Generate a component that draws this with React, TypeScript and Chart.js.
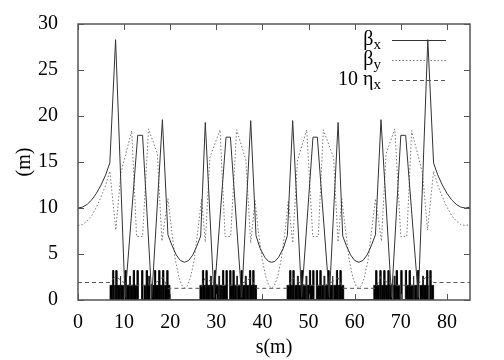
import React, { useEffect, useRef } from 'react';
import { Chart, registerables } from 'chart.js';

Chart.register(...registerables);

// ---- axis ticks ----
const xTicks = [0, 10, 20, 30, 40, 50, 60, 70, 80];
const yTicks = [0, 5, 10, 15, 20, 25, 30];

// ---- beta_x (m) ----
const sBetaX = [
  0, 1, 2, 3, 4, 5, 6, 6.9, 8.15, 10.2, 12.95, 14.0, 16.0, 18.3, 19.5,
  20.4, 21.3, 22.2, 23.1, 24.0, 24.9, 25.8, 26.6,
  27.6, 29.5, 32.1, 33.05, 35.5, 37.45, 38.6,
  39.5, 40.5, 41.3, 42.0, 42.7, 43.5, 44.5, 45.4,
  46.55, 48.5, 50.95, 51.9, 54.5, 56.4, 57.4,
  58.2, 59.1, 60.0, 60.9, 61.8, 62.7, 63.6, 64.5,
  65.7, 68.0, 70.0, 71.05, 73.8, 75.85, 77.1,
  78, 79, 80, 81, 82, 83, 84, 85,
];
const betaX = [
  10.0, 10.1, 10.4, 10.9, 11.6, 12.5, 13.6, 14.9, 28.3, 0.3, 17.9, 17.9, 0.3, 19.6, 7.1,
  5.9, 4.9, 4.3, 4.1, 4.3, 4.9, 5.9, 6.95,
  19.3, 0.3, 17.7, 17.7, 0.3, 19.5, 7.0,
  5.6, 4.65, 4.2, 4.1, 4.2, 4.65, 5.6, 7.0,
  19.5, 0.3, 17.7, 17.7, 0.3, 19.3, 6.95,
  5.9, 4.9, 4.3, 4.1, 4.3, 4.9, 5.9, 7.1,
  19.6, 0.3, 17.9, 17.9, 0.3, 28.3, 14.9,
  13.6, 12.5, 11.6, 10.9, 10.4, 10.1, 10.0, 10.1,
];

// ---- beta_y (m) ----
const sBetaY = [
  0, 1, 2, 3, 4, 5, 6, 6.9, 8.2, 9.3, 11.65, 12.7, 14.0, 15.3, 17.2, 18.2, 19.5,
  20.3, 21.1, 21.9, 22.6, 23.15, 23.7, 24.4, 25.2, 26.0, 26.8,
  27.6, 28.6, 30.8, 31.9, 33.1, 34.4, 36.4, 37.45, 38.4,
  39.1, 39.9, 40.7, 41.4, 42.0, 42.6, 43.3, 44.1, 44.9, 45.6,
  46.55, 47.6, 49.6, 50.9, 52.1, 53.2, 55.4, 56.4, 57.2,
  58.0, 58.8, 59.6, 60.3, 60.85, 61.4, 62.1, 62.9, 63.7, 64.5,
  65.8, 66.8, 68.7, 70.0, 71.3, 72.35, 74.7, 75.8, 77.1,
  78, 79, 80, 81, 82, 83, 84, 85,
];
const betaY = [
  8.1, 8.2, 8.6, 9.2, 10.1, 11.2, 12.5, 14.0, 7.6, 13.8, 18.4, 6.9, 6.9, 18.6, 15.9, 6.4, 11.0,
  7.65, 4.37, 2.44, 1.52, 1.3, 1.52, 2.44, 4.37, 7.65, 11.0,
  6.3, 15.5, 18.5, 6.9, 6.9, 18.5, 15.2, 6.2, 10.8,
  7.47, 4.53, 2.54, 1.56, 1.3, 1.56, 2.54, 4.53, 7.47, 10.8,
  6.2, 15.2, 18.5, 6.9, 6.9, 18.5, 15.5, 6.3, 11.0,
  7.65, 4.37, 2.44, 1.52, 1.3, 1.52, 2.44, 4.37, 7.65, 11.0,
  6.4, 15.9, 18.6, 6.9, 6.9, 18.4, 13.8, 7.6, 14.0,
  12.5, 11.2, 10.1, 9.2, 8.6, 8.2, 8.1, 8.2,
];

// ---- 10 * eta_x (m) ----
const sEta = [
  0, 6.9, 8.2, 9.6, 11.2, 15.6, 17.2, 18.4, 19.5,
  26.6, 27.6, 28.8, 30.4, 34.8, 36.3, 37.45, 38.6,
  45.4, 46.55, 47.7, 49.2, 53.6, 55.2, 56.4, 57.4,
  64.5, 65.6, 66.8, 68.4, 72.8, 74.4, 75.8, 77.1, 85,
];
const eta10 = [
  1.9, 1.9, 2.6, 2.0, 1.6, 1.6, 2.0, 2.5, 1.27,
  1.27, 2.4, 2.0, 1.6, 1.6, 2.0, 2.4, 1.27,
  1.27, 2.4, 2.0, 1.6, 1.6, 2.0, 2.4, 1.27,
  1.27, 2.5, 2.0, 1.6, 1.6, 2.0, 2.6, 1.9, 1.9,
];

// ---- lattice elements (s positions, m) ----
const dipoles: [number, number][] = [
  [6.9, 7.4], [7.9, 8.1], [8.5, 9.1], [9.3, 9.9], [10.6, 11.1], [11.4, 11.9], [12.3, 12.7],
  [14.3, 14.7], [15.1, 15.6], [15.9, 16.5], [16.9, 17.4], [17.8, 18.2], [18.7, 19.2], [19.5, 19.9],
  [26.4, 26.9], [27.3, 27.6], [28.0, 28.6], [28.9, 29.4], [29.9, 30.4], [30.8, 31.2], [31.6, 32.0],
  [33.1, 33.5], [33.9, 34.3], [34.7, 35.2], [35.6, 36.2], [36.5, 37.0], [37.5, 37.8], [38.2, 38.7],
  [45.3, 45.8], [46.2, 46.5], [47.0, 47.5], [47.8, 48.4], [48.8, 49.3], [49.7, 50.1], [50.5, 50.9],
  [52.0, 52.4], [52.8, 53.2], [53.6, 54.1], [54.6, 55.1], [55.4, 56.0], [56.4, 56.7], [57.1, 57.6],
  [64.1, 64.5], [64.8, 65.3], [65.8, 66.2], [66.6, 67.1], [67.5, 68.1], [68.4, 68.9], [69.3, 69.7],
  [71.3, 71.7], [72.1, 72.6], [72.9, 73.4], [74.1, 74.7], [74.9, 75.5], [75.9, 76.1], [76.6, 77.1],
];
const quads = [
  7.6, 8.3, 10.3, 12.1, 12.9, 13.9, 14.9, 16.7, 17.6, 18.45, 19.35,
  27.1, 27.85, 29.7, 31.45, 32.2, 33.0, 33.7, 35.45, 37.3, 38.0,
  46.0, 46.7, 48.55, 50.3, 51.0, 51.8, 52.55, 54.3, 56.15, 56.9,
  64.65, 65.55, 66.4, 67.3, 69.1, 70.1, 71.1, 71.9, 73.7, 75.7, 76.4,
];
const sexts = [
  9.2, 11.25, 15.4,
  28.8, 30.6, 34.5, 36.35,
  47.65, 49.5, 53.4, 55.2,
  68.6, 72.75, 74.8,
];
const dipoleHeight = 1.6;
const quadHeight = 3.2;
const sextHeight = 2.6;
const quadLength = 0.25;
const sextLength = 0.18;

const pts = (s: number[], v: number[]) => s.map((x, i) => ({ x, y: v[i] }));
const boxes = (list: [number, number][], h: number) => {
  const out: { x: number; y: number }[] = [];
  list.forEach(([a, b]) => {
    out.push({ x: a, y: 0 }, { x: a, y: h }, { x: b, y: h }, { x: b, y: 0 });
  });
  return out;
};
const centred = (c: number[], len: number): [number, number][] =>
  c.map((m) => [m - len / 2, m + len / 2]);

const SERIF = "'Liberation Serif', 'DejaVu Serif', serif";

const legendEntries = [
  { main: 'β', sub: 'x', ds: 0 },
  { main: 'β', sub: 'y', ds: 1 },
  { main: '10 η', sub: 'x', ds: 2 },
];

const framePlugin = {
  id: 'frameAndLegend',
  afterDraw(chart: any) {
    const { ctx, chartArea: ca, scales } = chart;
    const xs = scales.x;
    const ys = scales.y;
    ctx.save();
    // frame
    ctx.strokeStyle = '#555';
    ctx.lineWidth = 1.5;
    ctx.setLineDash([]);
    ctx.strokeRect(ca.left, ca.top, ca.right - ca.left, ca.bottom - ca.top);
    // inward ticks on all four sides
    ctx.lineWidth = 1;
    const tl = 6;
    ctx.beginPath();
    xTicks.forEach((v) => {
      const px = Math.round(xs.getPixelForValue(v)) + 0.5;
      ctx.moveTo(px, ca.bottom);
      ctx.lineTo(px, ca.bottom - tl);
      ctx.moveTo(px, ca.top);
      ctx.lineTo(px, ca.top + tl);
    });
    yTicks.forEach((v) => {
      const py = Math.round(ys.getPixelForValue(v)) + 0.5;
      ctx.moveTo(ca.left, py);
      ctx.lineTo(ca.left + tl, py);
      ctx.moveTo(ca.right, py);
      ctx.lineTo(ca.right - tl, py);
    });
    ctx.stroke();

    // legend with subscripts
    const textRight = ca.right - 89;
    const lineX0 = ca.right - 78;
    const lineX1 = ca.right - 24;
    legendEntries.forEach((e, i) => {
      const ly = ca.top + 16 + i * 20;
      const ds = chart.data.datasets[e.ds];
      ctx.font = `15px ${SERIF}`;
      const wSub = ctx.measureText(e.sub).width;
      ctx.font = `20px ${SERIF}`;
      const wMain = ctx.measureText(e.main).width;
      ctx.fillStyle = '#000';
      ctx.textBaseline = 'alphabetic';
      ctx.textAlign = 'left';
      ctx.fillText(e.main, textRight - wSub - wMain, ly + 5);
      ctx.font = `15px ${SERIF}`;
      ctx.fillText(e.sub, textRight - wSub, ly + 9);
      ctx.strokeStyle = ds.borderColor;
      ctx.lineWidth = ds.borderWidth;
      ctx.setLineDash(ds.borderDash || []);
      ctx.beginPath();
      ctx.moveTo(lineX0, ly + 0.5);
      ctx.lineTo(lineX1, ly + 0.5);
      ctx.stroke();
    });
    ctx.restore();
  },
};

export default function App() {
  const ref = useRef<HTMLCanvasElement>(null);
  useEffect(() => {
    document.body.style.margin = '0';
    const canvas = ref.current;
    if (!canvas) return;
    const chart = new Chart(canvas, {
      type: 'line',
      data: {
        datasets: [
          {
            label: 'βx',
            data: pts(sBetaX, betaX),
            borderColor: '#333',
            borderWidth: 1,
            pointRadius: 0,
            tension: 0,
            order: 1,
          },
          {
            label: 'βy',
            data: pts(sBetaY, betaY),
            borderColor: '#777',
            borderWidth: 1,
            borderDash: [1.5, 2],
            pointRadius: 0,
            tension: 0,
            order: 2,
          },
          {
            label: '10 ηx',
            data: pts(sEta, eta10),
            borderColor: '#555',
            borderWidth: 1,
            borderDash: [4, 3],
            pointRadius: 0,
            tension: 0,
            order: 3,
          },
          {
            label: 'dipoles',
            data: boxes(dipoles, dipoleHeight),
            borderColor: '#000',
            backgroundColor: '#000',
            borderWidth: 0.5,
            fill: 'origin',
            pointRadius: 0,
            order: 10,
          },
          {
            label: 'quadrupoles',
            data: boxes(centred(quads, quadLength), quadHeight),
            borderColor: '#000',
            backgroundColor: '#000',
            borderWidth: 0.8,
            fill: 'origin',
            pointRadius: 0,
            order: 11,
          },
          {
            label: 'sextupoles',
            data: boxes(centred(sexts, sextLength), sextHeight),
            borderColor: '#222',
            backgroundColor: '#222',
            borderWidth: 0.8,
            fill: 'origin',
            pointRadius: 0,
            order: 12,
          },
        ],
      },
      options: {
        animation: false,
        responsive: false,
        events: [],
        layout: { padding: { top: 24, right: 34, left: 0, bottom: 0 } },
        plugins: { legend: { display: false }, tooltip: { enabled: false } },
        scales: {
          x: {
            type: 'linear',
            min: 0,
            max: 85,
            afterBuildTicks: (s: any) => {
              s.ticks = xTicks.map((v) => ({ value: v }));
            },
            afterFit: (s: any) => {
              s.height = 60;
            },
            grid: { display: false },
            border: { display: false },
            ticks: {
              color: '#000',
              font: { family: SERIF, size: 20 },
              padding: 3,
              maxRotation: 0,
            },
            title: {
              display: true,
              text: 's(m)',
              color: '#000',
              font: { family: SERIF, size: 20 },
              padding: { top: 0, bottom: 0 },
            },
          },
          y: {
            type: 'linear',
            min: 0,
            max: 30,
            afterBuildTicks: (s: any) => {
              s.ticks = yTicks.map((v) => ({ value: v }));
            },
            afterFit: (s: any) => {
              s.width = 78;
            },
            grid: { display: false },
            border: { display: false },
            ticks: {
              color: '#000',
              font: { family: SERIF, size: 20 },
              padding: 12,
            },
            title: {
              display: true,
              text: '(m)',
              color: '#000',
              font: { family: SERIF, size: 20 },
              padding: { top: 13, bottom: 0 },
            },
          },
        },
      },
      plugins: [framePlugin],
    });
    return () => chart.destroy();
  }, []);
  return <canvas ref={ref} width={504} height={360} style={{ display: 'block' }} />;
}
